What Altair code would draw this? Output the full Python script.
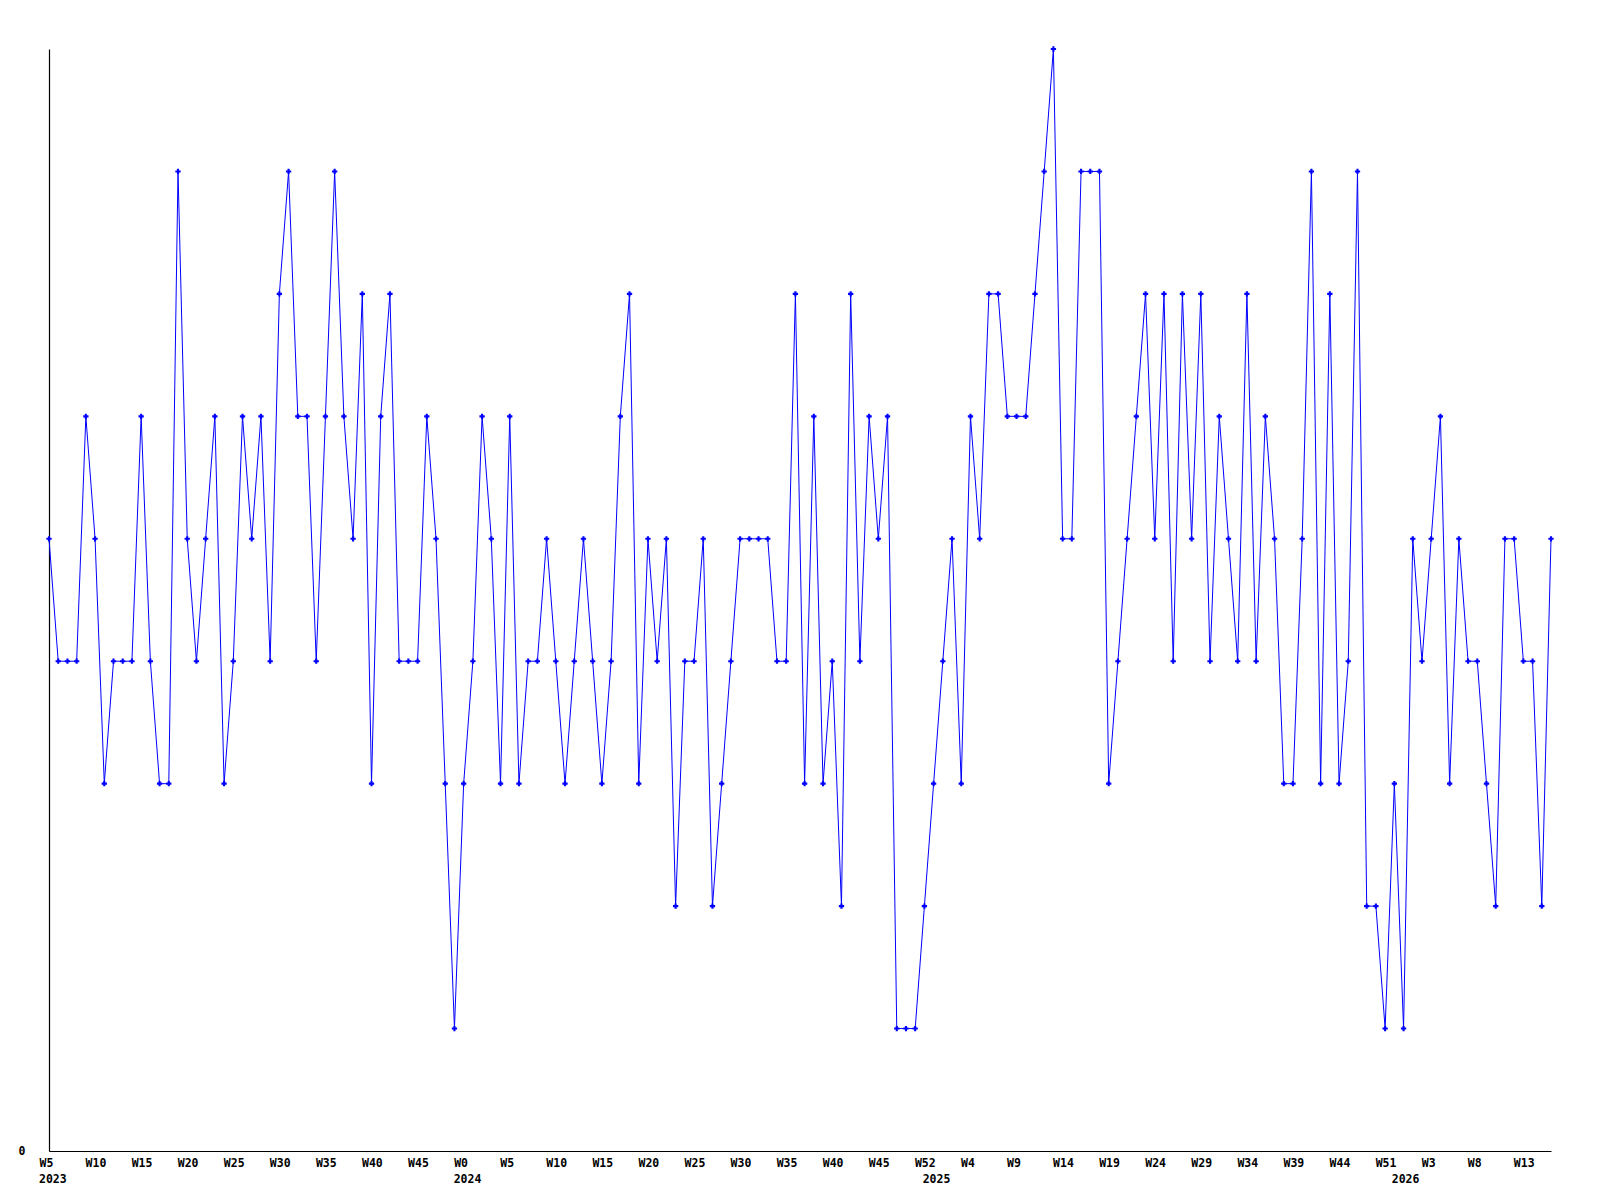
import altair as alt
import pandas as pd

# weekly values, one per week from 2023 W5 onward
values = [5, 4, 4, 4, 6, 5, 3, 4, 4, 4,
          6, 4, 3, 3, 8, 5, 4, 5, 6, 3,
          4, 6, 5, 6, 4, 7, 8, 6, 6, 4,
          6, 8, 6, 5, 7, 3, 6, 7, 4, 4,
          4, 6, 5, 3, 1, 3, 4, 6, 5, 3,
          6, 3, 4, 4, 5, 4, 3, 4, 5, 4,
          3, 4, 6, 7, 3, 5, 4, 5, 2, 4,
          4, 5, 2, 3, 4, 5, 5, 5, 5, 4,
          4, 7, 3, 6, 3, 4, 2, 7, 4, 6,
          5, 6, 1, 1, 1, 2, 3, 4, 5, 3,
          6, 5, 7, 7, 6, 6, 6, 7, 8, 9,
          5, 5, 8, 8, 8, 3, 4, 5, 6, 7,
          5, 7, 4, 7, 5, 7, 4, 6, 5, 4,
          7, 4, 6, 5, 3, 3, 5, 8, 3, 7,
          3, 4, 8, 2, 2, 1, 3, 1, 5, 4,
          5, 6, 3, 5, 4, 4, 3, 2, 5, 5,
          4, 4, 2, 5]

# tick labels (one every 5 weeks)
tick_labels = ["W5", "W10", "W15", "W20", "W25", "W30", "W35", "W40", "W45",
               "W0", "W5", "W10", "W15", "W20", "W25", "W30", "W35", "W40", "W45", "W52",
               "W4", "W9", "W14", "W19", "W24", "W29", "W34", "W39", "W44", "W51",
               "W3", "W8", "W13"]
tick_positions = [i * 5 for i in range(len(tick_labels))]

# year labels and their position on the week axis
years = ["2023", "2024", "2025", "2026"]
year_positions = [0, 45, 95.9, 146.8]

FONT = "DejaVu Sans Mono"
W, H = 1502, 1102

df = pd.DataFrame({"week": list(range(len(values))), "value": values})
ydf = pd.DataFrame({"week": year_positions, "year": years})

label_array = "[" + ",".join("'" + t + "'" for t in tick_labels) + "]"

xscale = alt.Scale(domain=[0, len(values) - 1], nice=False, zero=False)
yscale = alt.Scale(domain=[0, 9], nice=False)

xaxis = alt.Axis(values=tick_positions, labelExpr=label_array + "[round(datum.value / 5)]",
                 grid=False, ticks=False, domainColor="black", domainWidth=1.2,
                 labelAlign="left", labelOffset=-10, labelPadding=6,
                 labelFont=FONT, labelFontWeight="bold", labelFontSize=11.5,
                 labelColor="black", title=None, labelOverlap=False)
yaxis = alt.Axis(values=[0], grid=False, ticks=False, domainColor="black", domainWidth=1.2,
                 labelPadding=24, labelFont=FONT, labelFontWeight="bold", labelFontSize=11.5,
                 labelColor="black", title=None)

base = alt.Chart(df).encode(
    x=alt.X("week:Q", scale=xscale, axis=xaxis),
    y=alt.Y("value:Q", scale=yscale, axis=yaxis),
)
line = base.mark_line(color="#0000ff", strokeWidth=1)
pts = base.mark_point(shape="cross", filled=True, color="#0000ff", size=28, opacity=1)

year_text = alt.Chart(ydf).mark_text(
    align="left", baseline="alphabetic", dx=-10, font=FONT, fontWeight="bold",
    fontSize=11.5, color="black"
).encode(
    x=alt.X("week:Q", scale=xscale, axis=xaxis),
    y=alt.value(H + 32),
    text="year:N",
)

chart = alt.layer(line, pts, year_text).properties(
    width=W, height=H,
    autosize=alt.AutoSizeParams(type="none"),
    padding={"left": 41, "top": 41, "right": 20, "bottom": 40},
    background="white",
).configure_view(stroke=None)

chart.save("out.html", embed_options={"renderer": "svg", "actions": False})
